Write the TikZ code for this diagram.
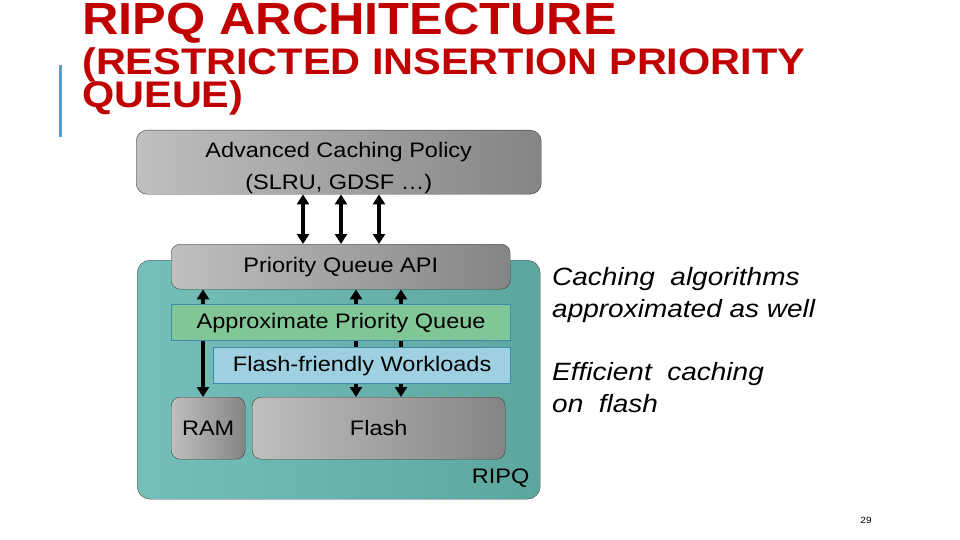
\documentclass[tikz,border=0pt]{standalone}
\usepackage{fontspec}
\setmainfont{Liberation Sans}[FakeStretch=1.12]
\usetikzlibrary{arrows.meta}

\definecolor{titlered}{RGB}{192,0,0}
\definecolor{barblue}{RGB}{64,168,208}
\definecolor{tealA}{RGB}{116,192,184}
\definecolor{tealB}{RGB}{92,166,158}
\definecolor{apqgreen}{RGB}{128,198,150}
\definecolor{ffblue}{RGB}{158,208,226}
\definecolor{edgeblue}{RGB}{58,140,176}

\tikzset{
  graybox/.style={draw=black!75, rounded corners=9pt, left color=black!25,
    right color=black!48, inner sep=0pt, anchor=north west},
  flatbox/.style={draw=edgeblue, line width=1.3pt, inner sep=0pt, anchor=north west},
  link/.style={{Triangle[length=10pt,width=12pt]}-{Triangle[length=10pt,width=12pt]},
    line width=3.2pt},
  boxtext/.style={font=\fontsize{21}{32}\selectfont},
  notetext/.style={font=\fontsize{25}{32}\selectfont\itshape, anchor=base west, inner sep=0pt},
}

\begin{document}
\begin{tikzpicture}[x=1pt, y=-1pt, boxtext]
  \useasboundingbox (0,0) rectangle (960,540);

  % Title
  \node[anchor=base west, inner sep=0pt, text=titlered,
        font=\fontsize{45}{45}\bfseries\selectfont] (title) at (82,35) {RIPQ ARCHITECTURE};
  \node[anchor=base west, inner sep=0pt, text=titlered,
        font=\fontsize{37}{37}\bfseries\selectfont] (subtitle) at (82,75) {(RESTRICTED INSERTION PRIORITY};
  \node[anchor=base west, inner sep=0pt, text=titlered,
        font=\fontsize{37}{37}\bfseries\selectfont] (subtitleb) at (82,108) {QUEUE)};
  \draw[barblue, line width=3pt] (60,65) -- (60,137);

  % Caching policy on top
  \node[graybox, rounded corners=11pt, minimum width=405pt, minimum height=64pt] (policy) at (136,130) {};
  \node[align=center] (policytxt) at ([yshift=-6pt]policy.center) {Advanced Caching Policy\\(SLRU, GDSF …)};

  % RIPQ block
  \node[draw=black!70, rounded corners=13pt, left color=tealA, right color=tealB,
        inner sep=0pt, anchor=north west, minimum width=403pt, minimum height=239pt] (ripq) at (137,260) {};
  \node[anchor=east, font=\fontsize{21}{25}\selectfont] (ripqtxt) at (533,478) {RIPQ};

  % API and storage
  \node[graybox, minimum width=339pt, minimum height=45pt] (api) at (171,244) {Priority Queue API};
  \node[graybox, minimum width=74pt, minimum height=62pt] (ram) at (171,397) {RAM};
  \node[graybox, minimum width=253pt, minimum height=62pt] (flash) at (252,397) {Flash};

  % Arrows
  \coordinate (up1) at (303,0);
  \coordinate (up2) at (341,0);
  \coordinate (up3) at (379,0);
  \draw[link] (policy.south -| up1) -- (api.north -| up1);
  \draw[link] (policy.south -| up2) -- (api.north -| up2);
  \draw[link] (policy.south -| up3) -- (api.north -| up3);
  \coordinate (dn1) at (203,0);
  \coordinate (dn2) at (356,0);
  \coordinate (dn3) at (401,0);
  \draw[link] (api.south -| dn1) -- (ram.north -| dn1);
  \draw[link] (api.south -| dn2) -- (flash.north -| dn2);
  \draw[link] (api.south -| dn3) -- (flash.north -| dn3);

  % Queue layers
  \node[flatbox, fill=apqgreen, minimum width=339pt, minimum height=36pt] (apq) at (171,304) {Approximate Priority Queue};
  \node[flatbox, fill=ffblue, minimum width=297pt, minimum height=36pt] (ffw) at (213,347) {Flash-friendly Workloads};

  % Notes
  \node[notetext] (notea) at (552,285) {Caching\ \ algorithms};
  \node[notetext] (noteb) at (552,317) {approximated as well};
  \node[notetext] (notec) at (552,380) {Efficient\ \ caching};
  \node[notetext] (noted) at (552,412) {on\ \ flash};

  \node[font=\fontsize{9}{10}\selectfont] (pagenum) at (866,520) {29};

\end{tikzpicture}
\end{document}
